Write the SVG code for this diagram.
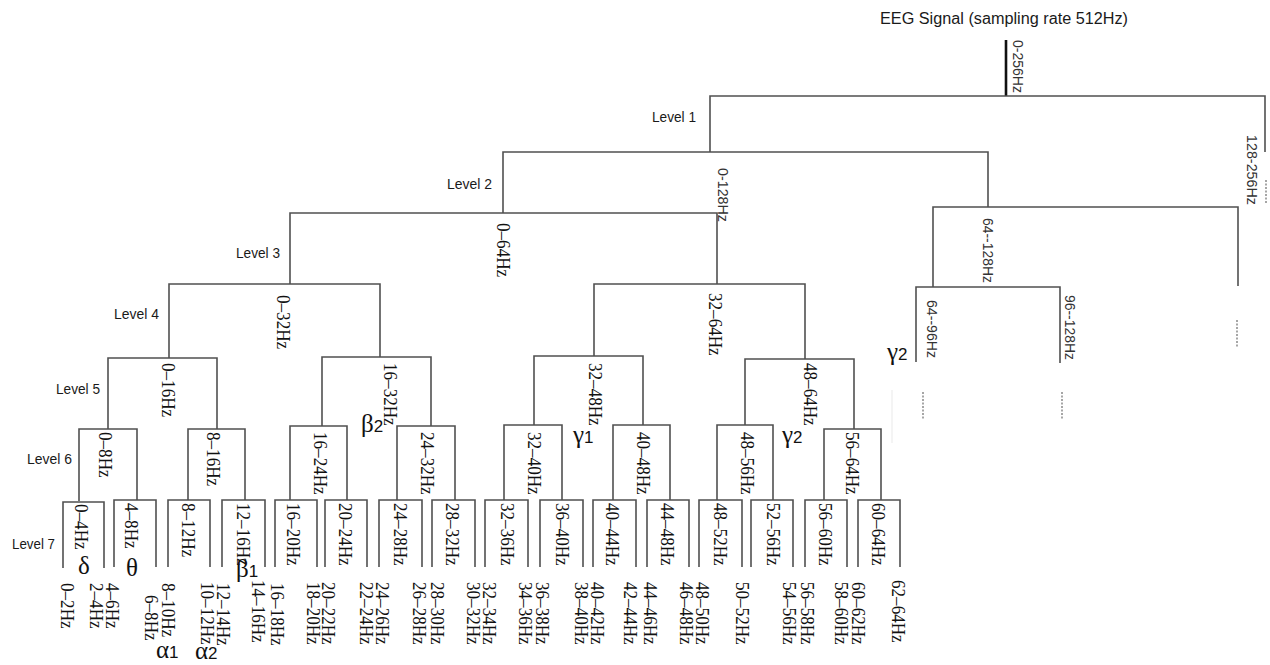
<svg xmlns="http://www.w3.org/2000/svg" width="1270" height="665" viewBox="0 0 1270 665">
<style>
.ln{fill:none;stroke:#505050;stroke-width:1.6}
.root{fill:none;stroke:#111;stroke-width:2.6}
.dash{fill:none;stroke:#777;stroke-width:1.3;stroke-dasharray:2 1.5}
.faint{fill:none;stroke:#efefef;stroke-width:1.3}
.sans{font-family:"Liberation Sans",Arial,sans-serif;fill:#1a1a1a}
.lvl{font-family:"Liberation Sans",Arial,sans-serif;font-size:14px;fill:#1a1a1a}
.sv{font-family:"Liberation Sans",Arial,sans-serif;font-size:15px;fill:#333;dominant-baseline:central}
.v{font-family:"Liberation Serif","Times New Roman",serif;font-size:19px;fill:#111;dominant-baseline:central}
.v7{font-family:"Liberation Serif","Times New Roman",serif;font-size:18px;fill:#111;dominant-baseline:central}
.gk{font-family:"Liberation Serif","Times New Roman",serif;font-size:25px;fill:#111}
.sub{font-family:"Liberation Sans",Arial,sans-serif;font-size:17px}
</style>
<rect width="1270" height="665" fill="#fff"/>

<g id="connectors">
<path class="root" d="M1006,40V96"/>
<path class="ln" d="M710,152V96H1265V152"/>
<path class="dash" d="M1266,180V204"/>
<path class="ln" d="M503,213V152H988V207"/>
<path class="ln" d="M290,284V213H717V284"/>
<path class="ln" d="M933,287V207H1238V286"/>
<path class="dash" d="M1237,320V348"/>
<path class="ln" d="M916,362V287H1060V363"/>
<path class="dash" d="M923,392V419"/>
<path class="dash" d="M1062,392V419"/>
<path class="faint" d="M892,390V443"/>
<path class="ln" d="M169,358V284H380V357"/>
<path class="ln" d="M594,356V284H805V359"/>
<path class="ln" d="M108,429V358H217V429"/>
<path class="ln" d="M322,426V357H431V426"/>
<path class="ln" d="M534,425V356H643V425"/>
<path class="ln" d="M745,425V359H854V429"/>
<path class="ln" d="M79,501V429H137V500"/>
<path class="ln" d="M188,500V429H245V500"/>
<path class="ln" d="M290,500V426H347V500"/>
<path class="ln" d="M397,500V426H455V500"/>
<path class="ln" d="M504,500V425H562V500"/>
<path class="ln" d="M613,500V425H670V500"/>
<path class="ln" d="M717,500V425H773V500"/>
<path class="ln" d="M824,500V429H881V500"/>
<path class="ln" d="M63,568V502H104V568"/>
<path class="ln" d="M114,567V500H156V567"/>
<path class="ln" d="M168,567V500H210V567"/>
<path class="ln" d="M222,567V500H265V567"/>
<path class="ln" d="M275,567V500H317V567"/>
<path class="ln" d="M325,567V500H367V567"/>
<path class="ln" d="M379,567V500H422V567"/>
<path class="ln" d="M432,567V500H475V567"/>
<path class="ln" d="M485,567V500H528V567"/>
<path class="ln" d="M540,567V500H583V567"/>
<path class="ln" d="M593,567V500H636V567"/>
<path class="ln" d="M647,567V500H689V567"/>
<path class="ln" d="M699,567V500H742V567"/>
<path class="ln" d="M751,567V500H793V567"/>
<path class="ln" d="M805,567V500H847V567"/>
<path class="ln" d="M858,567V500H900V567"/>
</g>

<g id="title"><text class="sans" x="880" y="24" font-size="16" textLength="248" lengthAdjust="spacingAndGlyphs">EEG Signal (sampling rate 512Hz)</text></g>

<g id="levels">
<text class="lvl" x="652" y="122" textLength="44" lengthAdjust="spacingAndGlyphs">Level 1</text>
<text class="lvl" x="447" y="189" textLength="45" lengthAdjust="spacingAndGlyphs">Level 2</text>
<text class="lvl" x="236" y="258" textLength="44" lengthAdjust="spacingAndGlyphs">Level 3</text>
<text class="lvl" x="114" y="319" textLength="45" lengthAdjust="spacingAndGlyphs">Level 4</text>
<text class="lvl" x="56" y="394" textLength="44" lengthAdjust="spacingAndGlyphs">Level 5</text>
<text class="lvl" x="27" y="464" textLength="45" lengthAdjust="spacingAndGlyphs">Level 6</text>
<text class="lvl" x="12" y="549" textLength="43" lengthAdjust="spacingAndGlyphs">Level 7</text>
</g>

<g id="n-0-256"><text class="sv" transform="translate(1018,40) rotate(90)" textLength="53" lengthAdjust="spacingAndGlyphs">0-256Hz</text></g>
<g id="n-128-256"><text class="sv" transform="translate(1252,135) rotate(90)" textLength="70" lengthAdjust="spacingAndGlyphs">128-256Hz</text></g>
<g id="n-0-128"><text class="sv" transform="translate(723,168) rotate(90)" textLength="54" lengthAdjust="spacingAndGlyphs">0-128Hz</text></g>
<g id="n-64-128"><text class="sv" transform="translate(988,218) rotate(90)" textLength="65" lengthAdjust="spacingAndGlyphs">64--128Hz</text></g>
<g id="n-64-96"><text class="sv" transform="translate(932,300) rotate(90)" textLength="58" lengthAdjust="spacingAndGlyphs">64--96Hz</text></g>
<g id="n-96-128"><text class="sv" transform="translate(1070,295) rotate(90)" textLength="65" lengthAdjust="spacingAndGlyphs">96--128Hz</text></g>

<g id="n-0-64"><text class="v" transform="translate(503,223) rotate(90) scale(0.9,1)">0–64Hz</text></g>
<g id="n-0-32"><text class="v" transform="translate(283,295) rotate(90) scale(0.9,1)">0–32Hz</text></g>
<g id="n-32-64"><text class="v" transform="translate(715,293) rotate(90) scale(0.9,1)">32–64Hz</text></g>
<g id="n-0-16"><text class="v" transform="translate(168,363) rotate(90) scale(0.9,1)">0–16Hz</text></g>
<g id="n-16-32"><text class="v" transform="translate(390,363) rotate(90) scale(0.9,1)">16–32Hz</text></g>
<g id="n-32-48"><text class="v" transform="translate(595,363) rotate(90) scale(0.9,1)">32–48Hz</text></g>
<g id="n-48-64"><text class="v" transform="translate(810,363) rotate(90) scale(0.9,1)">48–64Hz</text></g>
<g id="n-0-8"><text class="v" transform="translate(105,432) rotate(90) scale(0.9,1)">0–8Hz</text></g>
<g id="n-8-16"><text class="v" transform="translate(213,432) rotate(90) scale(0.9,1)">8–16Hz</text></g>
<g id="n-16-24"><text class="v" transform="translate(320,432) rotate(90) scale(0.9,1)">16–24Hz</text></g>
<g id="n-24-32"><text class="v" transform="translate(427,432) rotate(90) scale(0.9,1)">24–32Hz</text></g>
<g id="n-32-40"><text class="v" transform="translate(534,432) rotate(90) scale(0.9,1)">32–40Hz</text></g>
<g id="n-40-48"><text class="v" transform="translate(643,432) rotate(90) scale(0.9,1)">40–48Hz</text></g>
<g id="n-48-56"><text class="v" transform="translate(747,432) rotate(90) scale(0.9,1)">48–56Hz</text></g>
<g id="n-56-64"><text class="v" transform="translate(852,432) rotate(90) scale(0.9,1)">56–64Hz</text></g>

<g id="n-0-4"><text class="v7" transform="translate(81,504) rotate(90) scale(0.95,1)">0–4Hz</text></g>
<g id="n-4-8"><text class="v7" transform="translate(131,503) rotate(90) scale(0.95,1)">4–8Hz</text></g>
<g id="n-8-12"><text class="v7" transform="translate(188,503) rotate(90) scale(0.95,1)">8–12Hz</text></g>
<g id="n-12-16"><text class="v7" transform="translate(243,503) rotate(90) scale(0.95,1)">12–16Hz</text></g>
<g id="n-16-20"><text class="v7" transform="translate(293,503) rotate(90) scale(0.95,1)">16–20Hz</text></g>
<g id="n-20-24"><text class="v7" transform="translate(345,503) rotate(90) scale(0.95,1)">20–24Hz</text></g>
<g id="n-24-28"><text class="v7" transform="translate(400,503) rotate(90) scale(0.95,1)">24–28Hz</text></g>
<g id="n-28-32"><text class="v7" transform="translate(452,503) rotate(90) scale(0.95,1)">28–32Hz</text></g>
<g id="n-32-36"><text class="v7" transform="translate(507,503) rotate(90) scale(0.95,1)">32–36Hz</text></g>
<g id="n-36-40"><text class="v7" transform="translate(562,503) rotate(90) scale(0.95,1)">36–40Hz</text></g>
<g id="n-40-44"><text class="v7" transform="translate(612,503) rotate(90) scale(0.95,1)">40–44Hz</text></g>
<g id="n-44-48"><text class="v7" transform="translate(667,503) rotate(90) scale(0.95,1)">44–48Hz</text></g>
<g id="n-48-52"><text class="v7" transform="translate(720,503) rotate(90) scale(0.95,1)">48–52Hz</text></g>
<g id="n-52-56"><text class="v7" transform="translate(773,503) rotate(90) scale(0.95,1)">52–56Hz</text></g>
<g id="n-56-60"><text class="v7" transform="translate(825,503) rotate(90) scale(0.95,1)">56–60Hz</text></g>
<g id="n-60-64"><text class="v7" transform="translate(878,503) rotate(90) scale(0.95,1)">60–64Hz</text></g>

<g id="n-0-2"><text class="v7" transform="translate(67,583) rotate(90) scale(0.95,1)">0–2Hz</text></g>
<g id="n-2-4"><text class="v7" transform="translate(96,583) rotate(90) scale(0.95,1)">2–4Hz</text></g>
<g id="n-4-6"><text class="v7" transform="translate(112,583) rotate(90) scale(0.95,1)">4–6Hz</text></g>
<g id="n-6-8"><text class="v7" transform="translate(151,595) rotate(90) scale(0.95,1)">6–8Hz</text></g>
<g id="n-8-10"><text class="v7" transform="translate(168,583) rotate(90) scale(0.95,1)">8–10Hz</text></g>
<g id="n-10-12"><text class="v7" transform="translate(207,582) rotate(90) scale(0.95,1)">10–12Hz</text></g>
<g id="n-12-14"><text class="v7" transform="translate(223,583) rotate(90) scale(0.95,1)">12–14Hz</text></g>
<g id="n-14-16"><text class="v7" transform="translate(258,580) rotate(90) scale(0.95,1)">14–16Hz</text></g>
<g id="n-16-18"><text class="v7" transform="translate(277,583) rotate(90) scale(0.95,1)">16–18Hz</text></g>
<g id="n-18-20"><text class="v7" transform="translate(313,582) rotate(90) scale(0.95,1)">18–20Hz</text></g>
<g id="n-20-22"><text class="v7" transform="translate(328,582) rotate(90) scale(0.95,1)">20–22Hz</text></g>
<g id="n-22-24"><text class="v7" transform="translate(366,582) rotate(90) scale(0.95,1)">22–24Hz</text></g>
<g id="n-24-26"><text class="v7" transform="translate(382,582) rotate(90) scale(0.95,1)">24–26Hz</text></g>
<g id="n-26-28"><text class="v7" transform="translate(419,582) rotate(90) scale(0.95,1)">26–28Hz</text></g>
<g id="n-28-30"><text class="v7" transform="translate(437,582) rotate(90) scale(0.95,1)">28–30Hz</text></g>
<g id="n-30-32"><text class="v7" transform="translate(473,582) rotate(90) scale(0.95,1)">30–32Hz</text></g>
<g id="n-32-34"><text class="v7" transform="translate(489,582) rotate(90) scale(0.95,1)">32–34Hz</text></g>
<g id="n-34-36"><text class="v7" transform="translate(525,582) rotate(90) scale(0.95,1)">34–36Hz</text></g>
<g id="n-36-38"><text class="v7" transform="translate(542,582) rotate(90) scale(0.95,1)">36–38Hz</text></g>
<g id="n-38-40"><text class="v7" transform="translate(581,582) rotate(90) scale(0.95,1)">38–40Hz</text></g>
<g id="n-40-42"><text class="v7" transform="translate(597,582) rotate(90) scale(0.95,1)">40–42Hz</text></g>
<g id="n-42-44"><text class="v7" transform="translate(630,582) rotate(90) scale(0.95,1)">42–44Hz</text></g>
<g id="n-44-46"><text class="v7" transform="translate(650,582) rotate(90) scale(0.95,1)">44–46Hz</text></g>
<g id="n-46-48"><text class="v7" transform="translate(686,582) rotate(90) scale(0.95,1)">46–48Hz</text></g>
<g id="n-48-50"><text class="v7" transform="translate(702,582) rotate(90) scale(0.95,1)">48–50Hz</text></g>
<g id="n-50-52"><text class="v7" transform="translate(742,582) rotate(90) scale(0.95,1)">50–52Hz</text></g>
<g id="n-54-56"><text class="v7" transform="translate(789,582) rotate(90) scale(0.95,1)">54–56Hz</text></g>
<g id="n-56-58"><text class="v7" transform="translate(807,582) rotate(90) scale(0.95,1)">56–58Hz</text></g>
<g id="n-58-60"><text class="v7" transform="translate(841,582) rotate(90) scale(0.95,1)">58–60Hz</text></g>
<g id="n-60-62"><text class="v7" transform="translate(858,582) rotate(90) scale(0.95,1)">60–62Hz</text></g>
<g id="n-62-64"><text class="v7" transform="translate(898,580) rotate(90) scale(0.95,1)">62–64Hz</text></g>

<g id="bands">
<text class="gk" x="78" y="574">δ</text>
<text class="gk" x="126" y="576">θ</text>
<text class="gk" x="236" y="577">β<tspan class="sub">1</tspan></text>
<text class="gk" x="156" y="658">α<tspan class="sub">1</tspan></text>
<text class="gk" x="195" y="659">α<tspan class="sub">2</tspan></text>
<text class="gk" x="361" y="432">β<tspan class="sub">2</tspan></text>
<text class="gk" x="573" y="443">γ<tspan class="sub">1</tspan></text>
<text class="gk" x="782" y="443">γ<tspan class="sub">2</tspan></text>
<text class="gk" x="887" y="360">γ<tspan class="sub">2</tspan></text>
</g>
</svg>
